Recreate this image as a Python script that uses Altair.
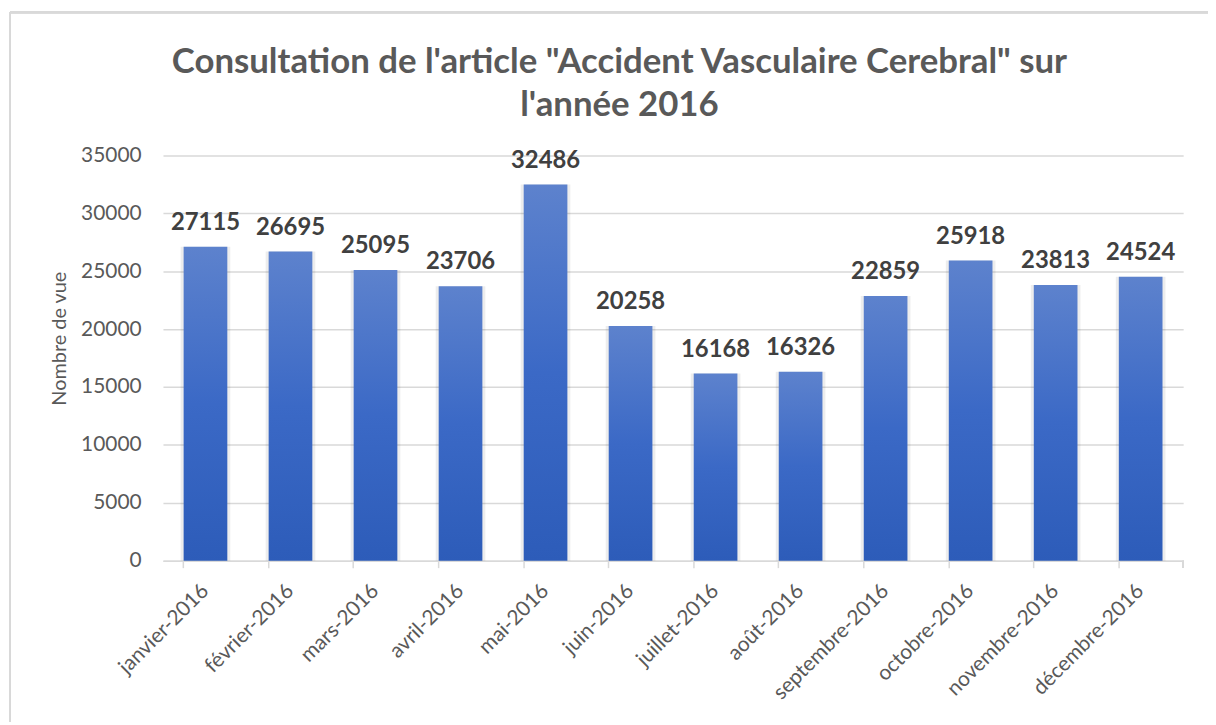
import altair as alt
import pandas as pd

months = ["janvier-2016", "février-2016", "mars-2016", "avril-2016", "mai-2016",
          "juin-2016", "juillet-2016", "août-2016", "septembre-2016",
          "octobre-2016", "novembre-2016", "décembre-2016"]
views = [27115, 26695, 25095, 23706, 32486, 20258, 16168, 16326, 22859, 25918, 23813, 24524]
y_ticks = [0, 5000, 10000, 15000, 20000, 25000, 30000, 35000]

df = pd.DataFrame({"mois": months, "vues": views})

W, H = 1027, 408
FONT = "Lato"
GREY = "#595959"

x = alt.X("mois:N", sort=months, title=None,
          scale=alt.Scale(paddingInner=0.486, paddingOuter=0.243),
          axis=alt.Axis(labelAngle=-45, labelFontSize=21, labelColor=GREY, labelFont=FONT,
                        labelPadding=20, domainColor="#D9D9D9", domainWidth=1.5,
                        tickColor="#D9D9D9", tickWidth=1.5, tickSize=7, bandPosition=0,
                        labelAlign="right", labelBaseline="middle", grid=False))
y = alt.Y("vues:Q", title="Nombre de vue",
          scale=alt.Scale(domain=[0, 35000], nice=False),
          axis=alt.Axis(values=y_ticks, format="d", labelFontSize=21, labelColor=GREY,
                        labelFont=FONT, labelPadding=22, domain=False, ticks=False,
                        grid=True, gridColor="#D9D9D9", gridWidth=1.5,
                        titleFontSize=20, titleFont=FONT, titleColor=GREY,
                        titleFontWeight="normal", titleX=-104, titleY=H / 2 - 20,
                        titleAngle=-90, titleAlign="center", titleBaseline="middle"))

base = alt.Chart(df)

shadow = base.mark_bar(color="#000000", opacity=0.07, size=50).encode(x=x, y=y)

bars = base.mark_bar(
    color=alt.Gradient(gradient="linear",
                       stops=[alt.GradientStop(color="#5D82CD", offset=0),
                              alt.GradientStop(color="#3B69C6", offset=0.5),
                              alt.GradientStop(color="#2D5CB9", offset=1)],
                       x1=0, x2=0, y1=0, y2=1)
).encode(x=x, y=y)

labels = base.mark_text(dy=-24, fontSize=24, fontWeight="bold", color="#404040",
                        font=FONT, baseline="middle").encode(x=x, y=y, text="vues:Q")

end_tick = alt.Chart(df).mark_rule(color="#D9D9D9", strokeWidth=1.5).encode(
    x=alt.value(W), y=alt.value(H), y2=alt.value(H + 7))

border_top = alt.Chart(df).mark_rule(color="#D9D9D9", strokeWidth=2).encode(
    x=alt.value(-154), x2=alt.value(W + 60), y=alt.value(-144))
border_left = alt.Chart(df).mark_rule(color="#D9D9D9", strokeWidth=2).encode(
    x=alt.value(-154), y=alt.value(-144), y2=alt.value(H + 200))

chart = alt.layer(shadow, bars, labels, end_tick, border_top, border_left).properties(
    width=W, height=H,
    title=alt.TitleParams(
        text=["Consultation de l'article \"Accident Vasculaire Cerebral\" sur", "l'année 2016"],
        fontSize=35, font=FONT, fontWeight="bold", color=GREY, anchor="middle",
        dx=-54, offset=0, dy=112, lineHeight=43),
    autosize=alt.AutoSizeParams(type="none"),
    padding={"left": 156, "top": 146, "right": 25, "bottom": 160},
).configure_view(stroke=None)

chart.save("out.html", embed_options={"renderer": "svg", "actions": False})
